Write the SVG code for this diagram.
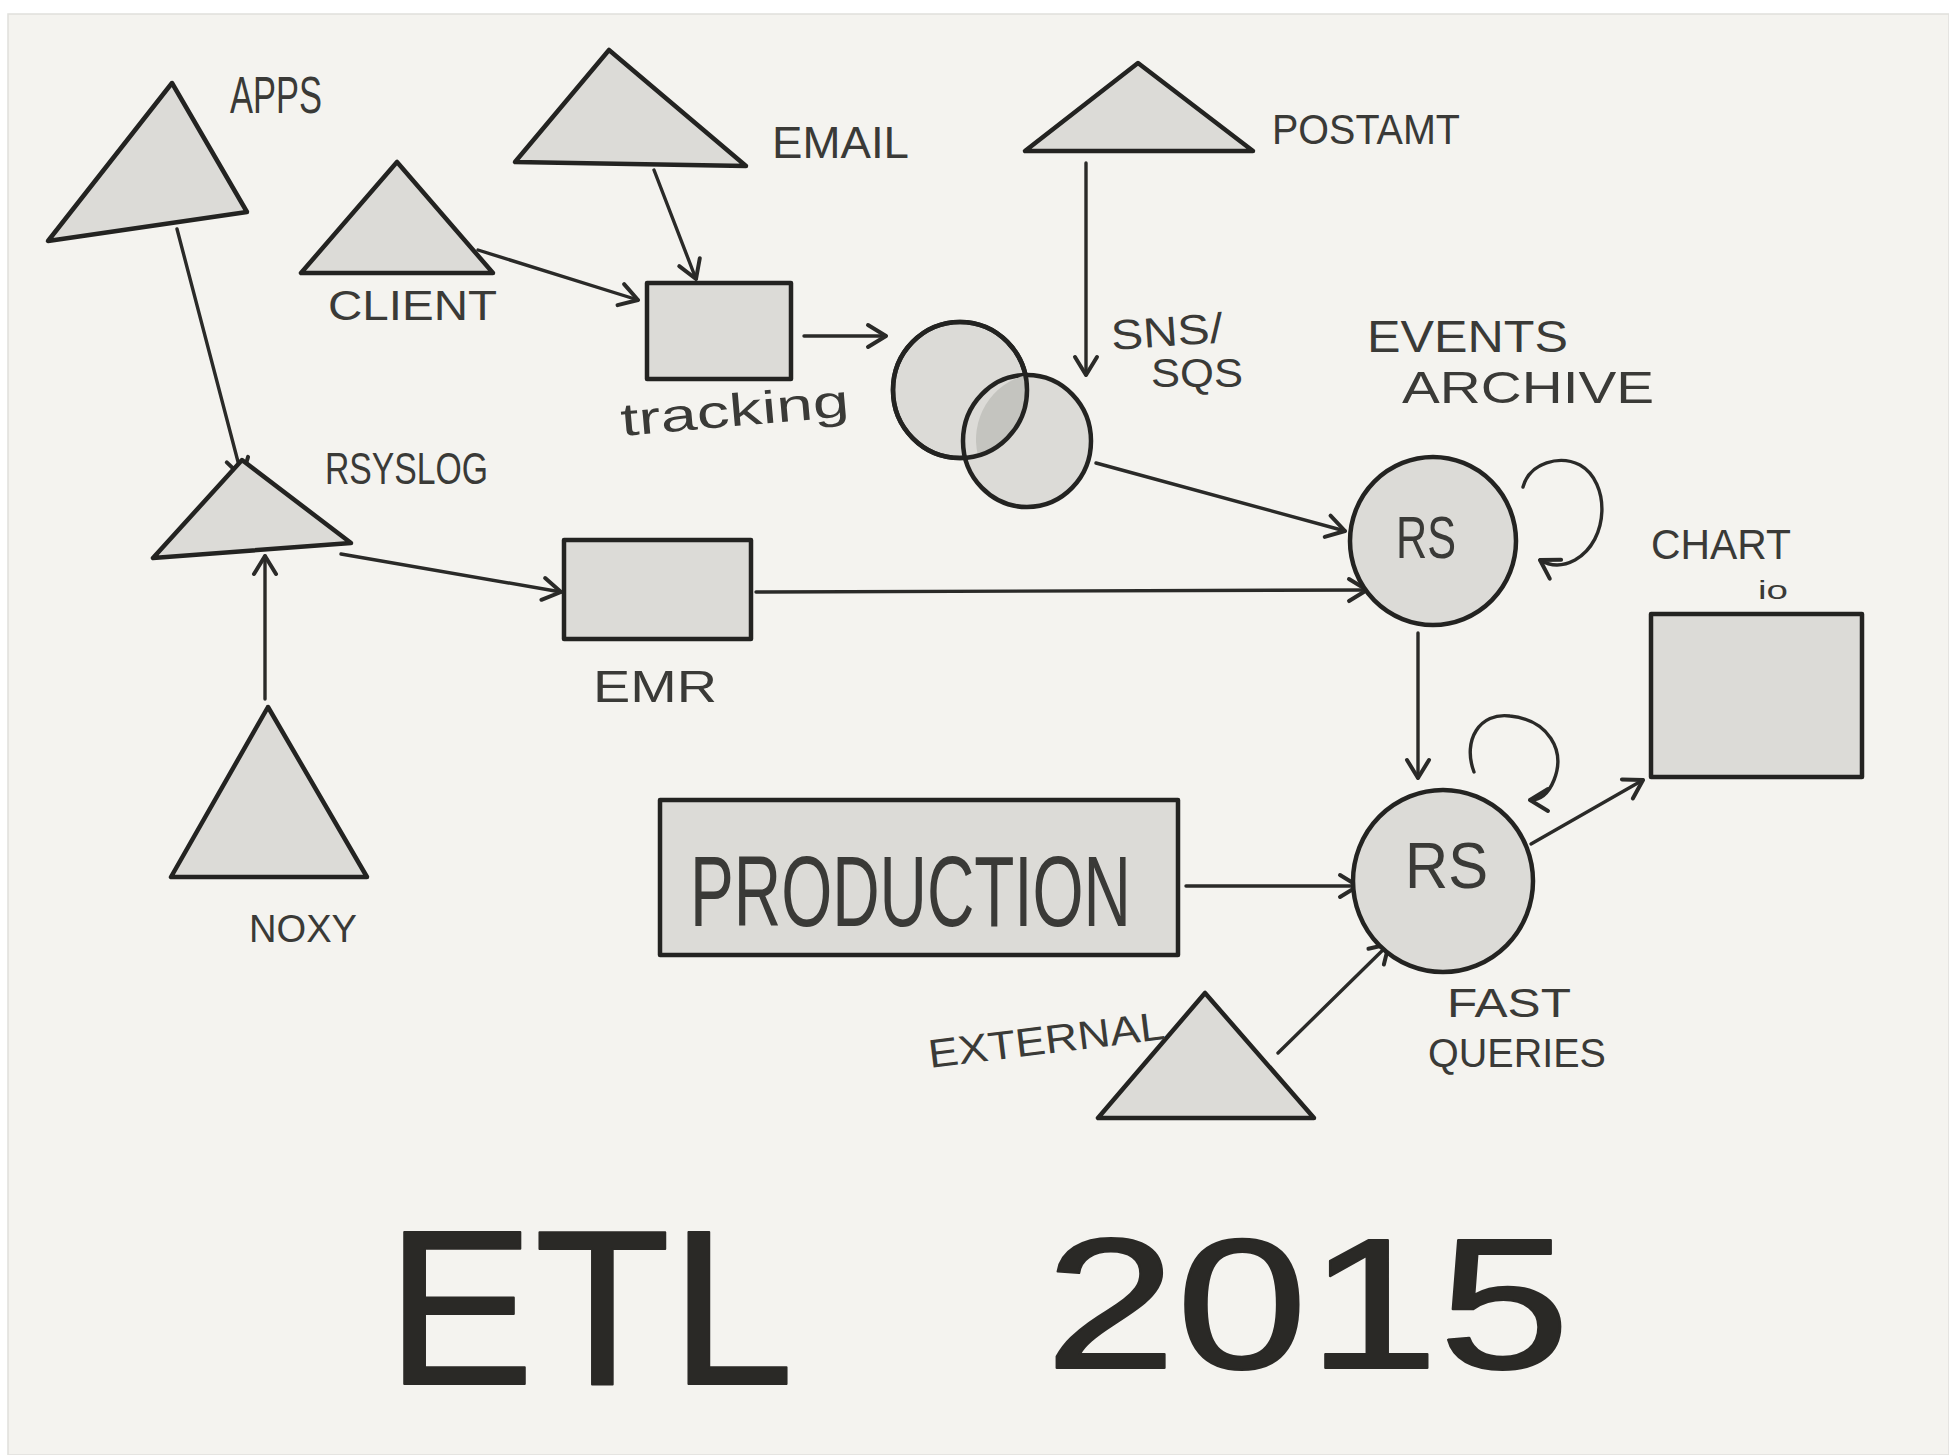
<svg xmlns="http://www.w3.org/2000/svg" width="1949" height="1455" viewBox="0 0 1949 1455">
<defs>
<style>
.shape{fill:#dcdbd7;stroke:#232321;stroke-width:4.5;stroke-linejoin:round}
.conn{fill:none;stroke:#2a2a28;stroke-width:3.4;stroke-linecap:round;marker-end:url(#arr)}
.lbl{font-family:"Liberation Sans Narrow","Liberation Sans",sans-serif;fill:#3a3a37}
.title{font-family:"Liberation Sans",sans-serif;font-weight:normal;fill:#2a2926;stroke:#2a2926;stroke-width:2;stroke-linejoin:round}
</style>
<marker id="arr" markerUnits="userSpaceOnUse" markerWidth="34" markerHeight="34" refX="0" refY="0" viewBox="-22 -17 34 34" orient="auto">
<path d="M-18,-11 L0,0 L-18,11" fill="none" stroke="#2a2a28" stroke-width="4" stroke-linecap="round" stroke-linejoin="round"/>
</marker>
</defs>
<rect x="0" y="0" width="1949" height="1455" fill="#ffffff"/>
<rect x="8" y="14" width="1941" height="1441" fill="#f4f3ef" stroke="#e0dfdc" stroke-width="1.5"/>

<g id="connectors">
<line class="conn" x1="177" y1="229" x2="242" y2="477"/>
<line class="conn" x1="654" y1="170" x2="696" y2="279"/>
<line class="conn" x1="478" y1="250" x2="638" y2="300"/>
<line class="conn" x1="804" y1="336" x2="886" y2="336"/>
<line class="conn" x1="1086" y1="163" x2="1086" y2="375"/>
<line class="conn" x1="1096" y1="463" x2="1345" y2="531"/>
<line class="conn" x1="341" y1="554" x2="561" y2="592"/>
<line class="conn" x1="265" y1="699" x2="265" y2="556"/>
<line class="conn" x1="756" y1="592" x2="1367" y2="590"/>
<line class="conn" x1="1418" y1="633" x2="1418" y2="778"/>
<line class="conn" x1="1186" y1="886" x2="1358" y2="886"/>
<line class="conn" x1="1278" y1="1053" x2="1389" y2="944"/>
<line class="conn" x1="1531" y1="844" x2="1643" y2="780"/>
<path class="conn" d="M1523,487 C1530,462 1560,455 1580,465 C1610,482 1610,540 1575,560 C1562,567 1550,566 1540,560"/>
<path class="conn" d="M1474,772 C1462,740 1480,712 1510,716 C1548,720 1566,750 1554,780 C1548,795 1540,800 1530,800"/>
</g>

<g id="apps">
<polygon class="shape" points="172,83 48,241 247,212"/>
<text class="lbl" x="230" y="113" font-size="52" textLength="92" lengthAdjust="spacingAndGlyphs">APPS</text>
</g>
<g id="client">
<polygon class="shape" points="397,162 301,273 493,273"/>
<text class="lbl" x="328" y="320" font-size="42" textLength="169" lengthAdjust="spacingAndGlyphs">CLIENT</text>
</g>
<g id="email">
<polygon class="shape" points="609,50 515,162 746,166"/>
<text class="lbl" x="772" y="158" font-size="44" textLength="137" lengthAdjust="spacingAndGlyphs">EMAIL</text>
</g>
<g id="tracking">
<rect class="shape" x="647" y="283" width="144" height="96"/>
<text class="lbl" x="622" y="436" font-size="46" textLength="229" lengthAdjust="spacingAndGlyphs" transform="rotate(-5 622 436)">tracking</text>
</g>
<g id="postamt">
<polygon class="shape" points="1138,63 1025,151 1253,151"/>
<text class="lbl" x="1272" y="144" font-size="42" textLength="188" lengthAdjust="spacingAndGlyphs">POSTAMT</text>
</g>
<g id="sns-sqs">
<ellipse class="shape" cx="960" cy="390" rx="67" ry="68"/>
<ellipse class="shape" cx="1027" cy="441" rx="64" ry="66"/>
<path d="M978,456 A67,68 0 0 0 1027,375 A64,66 0 0 0 978,456 Z" fill="#c4c4bf" stroke="none"/>
<ellipse cx="960" cy="390" rx="67" ry="68" fill="none" stroke="#232321" stroke-width="4.5"/>
<text class="lbl" x="1112" y="350" font-size="42" textLength="112" lengthAdjust="spacingAndGlyphs" transform="rotate(-4 1112 350)">SNS/</text>
<text class="lbl" x="1151" y="387" font-size="40" textLength="92" lengthAdjust="spacingAndGlyphs">SQS</text>
</g>
<g id="rs-archive">
<ellipse class="shape" cx="1433" cy="541" rx="83" ry="84"/>
<text class="lbl" x="1396" y="558" font-size="60" textLength="60" lengthAdjust="spacingAndGlyphs">RS</text>
<text class="lbl" x="1367" y="352" font-size="44" textLength="201" lengthAdjust="spacingAndGlyphs">EVENTS</text>
<text class="lbl" x="1402" y="403" font-size="44" textLength="252" lengthAdjust="spacingAndGlyphs">ARCHIVE</text>
</g>
<g id="chartio">
<rect class="shape" x="1651" y="614" width="211" height="163"/>
<text class="lbl" x="1651" y="559" font-size="42" textLength="140" lengthAdjust="spacingAndGlyphs">CHART</text>
<text class="lbl" x="1758" y="599" font-size="26" textLength="30" lengthAdjust="spacingAndGlyphs">io</text>
</g>
<g id="rsyslog">
<polygon class="shape" points="242,460 153,558 351,543"/>
<text class="lbl" x="325" y="484" font-size="44" textLength="163" lengthAdjust="spacingAndGlyphs">RSYSLOG</text>
</g>
<g id="emr">
<rect class="shape" x="564" y="540" width="187" height="99"/>
<text class="lbl" x="593" y="702" font-size="44" textLength="124" lengthAdjust="spacingAndGlyphs">EMR</text>
</g>
<g id="noxy">
<polygon class="shape" points="268,707 171,877 367,877"/>
<text class="lbl" x="249" y="942" font-size="38" textLength="108" lengthAdjust="spacingAndGlyphs">NOXY</text>
</g>
<g id="production">
<rect class="shape" x="660" y="800" width="518" height="155"/>
<text class="lbl" x="690" y="926" font-size="100" textLength="441" lengthAdjust="spacingAndGlyphs">PRODUCTION</text>
</g>
<g id="rs-fast">
<ellipse class="shape" cx="1443" cy="881" rx="90" ry="91"/>
<text class="lbl" x="1405" y="888" font-size="64" textLength="83" lengthAdjust="spacingAndGlyphs">RS</text>
<text class="lbl" x="1447" y="1017" font-size="40" textLength="124" lengthAdjust="spacingAndGlyphs">FAST</text>
<text class="lbl" x="1428" y="1067" font-size="40" textLength="178" lengthAdjust="spacingAndGlyphs">QUERIES</text>
</g>
<g id="external">
<polygon class="shape" points="1205,993 1098,1118 1314,1118"/>
<text class="lbl" x="930" y="1068" font-size="40" textLength="238" lengthAdjust="spacingAndGlyphs" transform="rotate(-7 930 1068)">EXTERNAL</text>
</g>
<g id="title">
<text class="title" x="386" y="1384" font-size="220" textLength="408" lengthAdjust="spacingAndGlyphs">ETL</text>
<text class="title" x="1045" y="1368" font-size="185" textLength="525" lengthAdjust="spacingAndGlyphs">2015</text>
</g>
</svg>
